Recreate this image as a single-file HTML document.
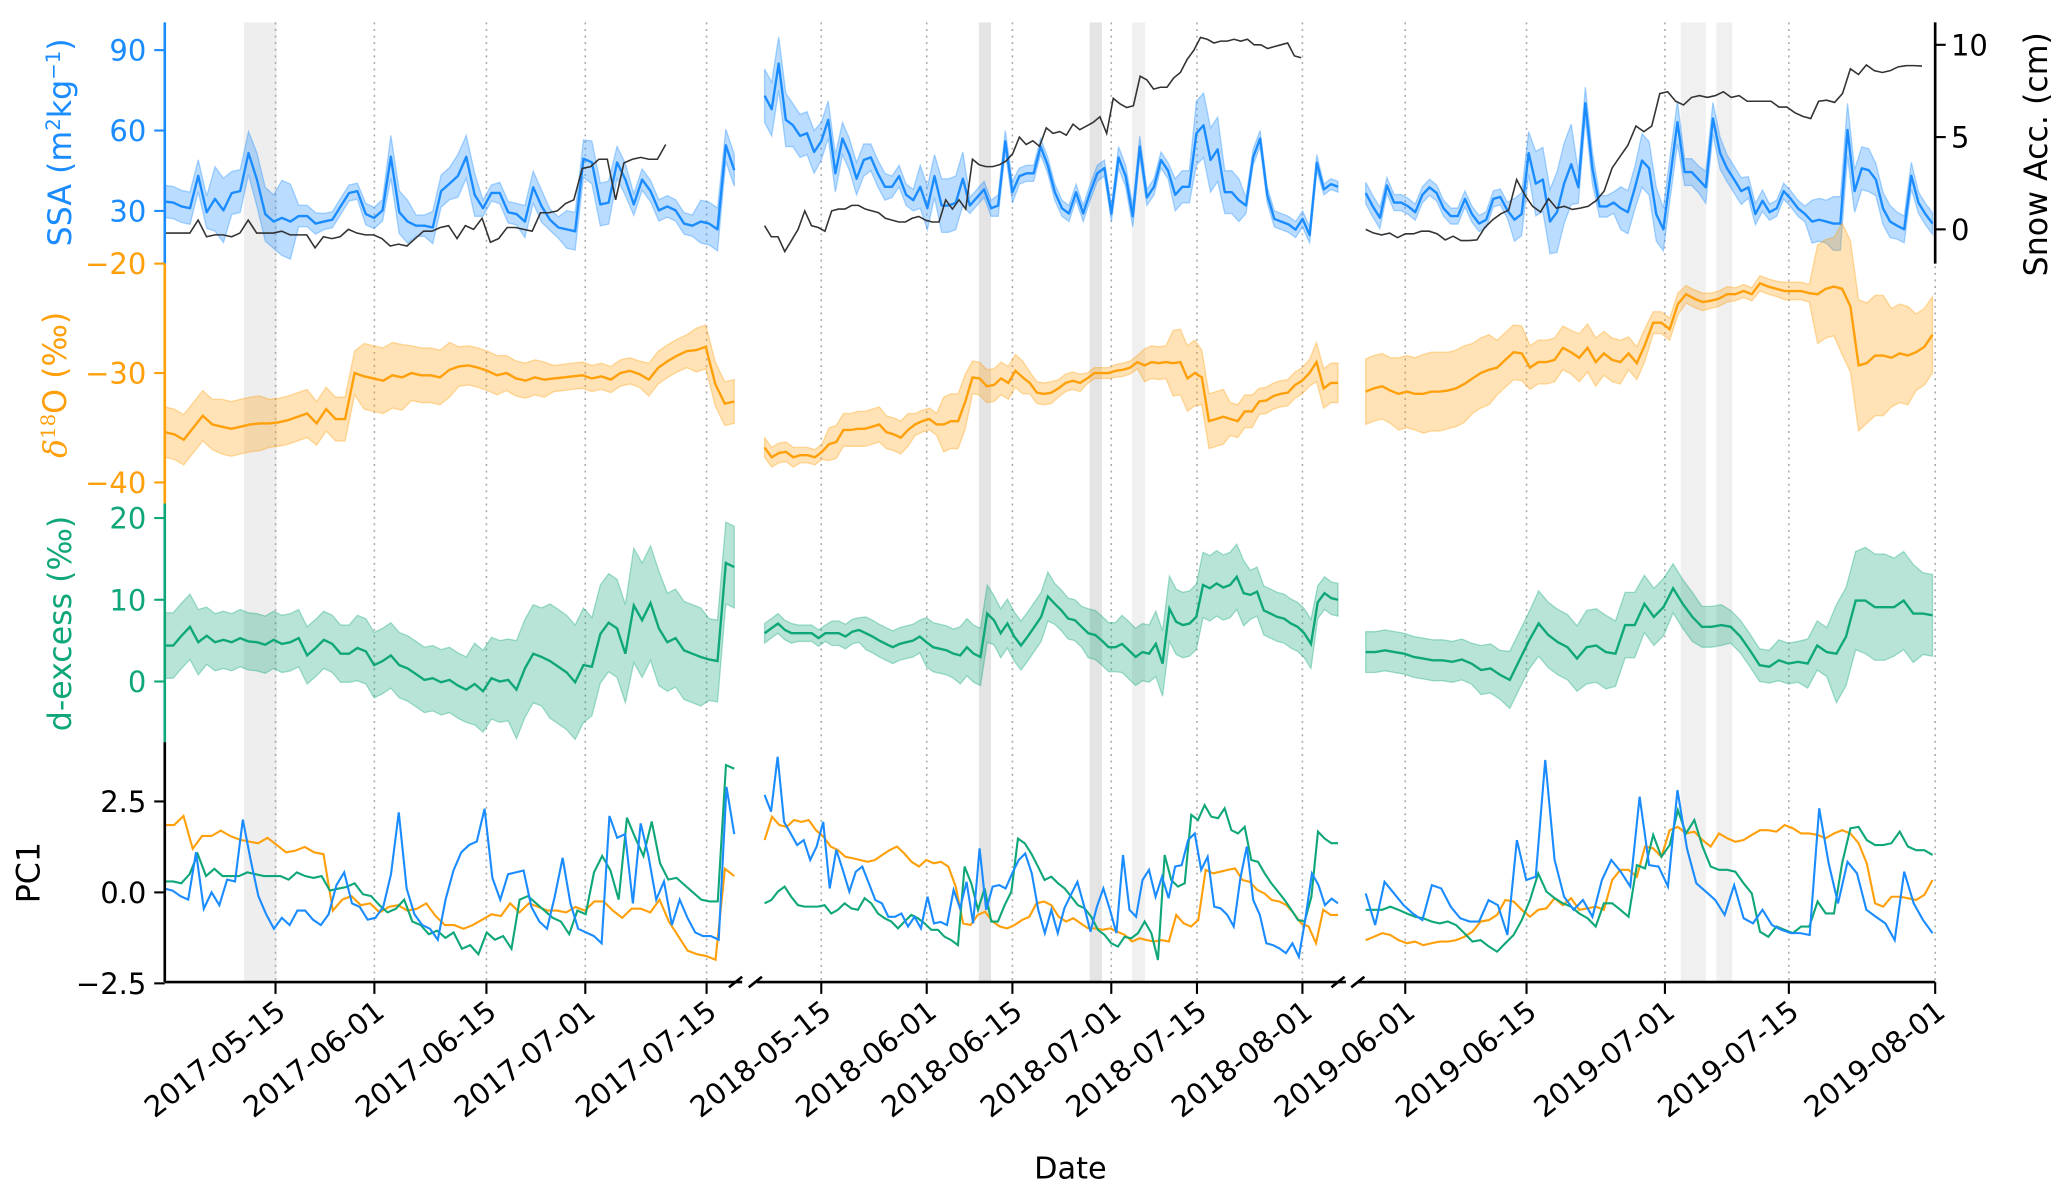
<!DOCTYPE html>
<html><head><meta charset="utf-8">
<style>
html,body{margin:0;padding:0;background:#fff;}
svg{display:block;font-family:"DejaVu Sans","Liberation Sans",sans-serif;}
</style></head>
<body>
<svg id="chart" width="2067" height="1199" viewBox="0 0 1568 909.6" preserveAspectRatio="none" xmlns="http://www.w3.org/2000/svg">
<g id="bg"></g><g id="marks"></g><g id="axes"></g>
</svg>
<script>
// ---------- data ----------
const tickLabels2017 = ["2017-05-15","2017-06-01","2017-06-15","2017-07-01","2017-07-15"];
const tickLabels2018 = ["2018-05-15","2018-06-01","2018-06-15","2018-07-01","2018-07-15","2018-08-01"];
const tickLabels2019 = ["2019-06-01","2019-06-15","2019-07-01","2019-07-15","2019-08-01"];
const ssaTicks = [30,60,90];
const d18Ticks = [-40,-30,-20];
const dexTicks = [0,10,20];
const pcTicks = [-2.5,0.0,2.5];
const snowTicks = [0,5,10];

const ssaMean2017 = [33.5,33.1,31.7,31,43.1,29.5,34.5,30.2,36.7,37.4,51.6,41.7,28.8,26,27.4,26,28.1,28.1,25.3,26,26.7,31.7,36.7,37.4,28.8,27.4,30.2,50.2,29.5,26,24.5,24.5,23.8,37.4,40.2,43.1,50.2,36,31,36.7,36.7,29.5,28.8,26,38.8,31.7,26.7,23.8,23.1,22.4,49.5,48.1,32.4,33.1,48.1,41.7,32.4,41.7,37.4,30.2,31.7,30.2,25.3,24.5,26,25.3,23.1,54.5,45.2];
const ssaSpread2017 = [6,6,12,8,10,14,4,3,3,4,8,4,6,8,3,4,6,4,7,8,6,4,4,4,8,6];
const snow2017 = [-0.2,-0.2,-0.2,-0.2,0.5,-0.4,-0.3,-0.3,-0.4,-0.2,0.5,-0.2,-0.2,-0.2,-0.1,-0.3,-0.3,-0.3,-1.0,-0.4,-0.5,-0.4,0.0,-0.2,-0.3,-0.3,-0.5,-0.9,-0.8,-0.9,-0.5,-0.1,-0.1,0.1,0.2,-0.5,0.2,0.0,0.6,-0.7,-0.5,0.1,0.1,0.0,-0.1,0.9,0.9,1.0,1.4,1.6,3.3,3.4,3.8,3.8,1.6,3.6,3.8,3.9,3.8,3.8,4.6];
const d18Mean2017 = [-35.4,-35.6,-36.1,-35.0,-33.9,-34.7,-34.9,-35.1,-34.9,-34.7,-34.6,-34.6,-34.5,-34.3,-34.0,-33.7,-34.6,-33.3,-34.2,-34.2,-30.0,-30.3,-30.5,-30.7,-30.2,-30.4,-30.0,-30.2,-30.2,-30.4,-29.7,-29.4,-29.3,-29.5,-29.8,-30.2,-30.0,-30.5,-30.7,-30.4,-30.6,-30.5,-30.4,-30.3,-30.2,-30.5,-30.3,-30.6,-30.0,-29.8,-30.1,-30.6,-29.5,-28.9,-28.4,-28.0,-27.9,-27.6,-31.0,-32.8,-32.6];
const d18Spread2017 = [2.3,2.5,2.2,2.0,3.0,2.5,1.8,1.6,1.2,1.2,1.5,2.0];
const dexMean2017 = [4.4,4.4,5.6,6.7,4.8,5.6,4.8,5.1,4.8,5.3,4.9,4.8,4.5,5.1,4.6,4.8,5.3,3.2,4.1,5.1,4.6,3.4,3.4,4.1,3.7,2.0,2.5,3.2,2.0,1.6,0.9,0.2,0.4,-0.1,0.2,-0.5,-1.0,-0.3,-1.2,0.4,0.0,0.2,-1.0,1.6,3.4,3.0,2.5,1.8,1.1,-0.1,2.0,1.8,5.8,7.2,6.5,3.4,9.3,7.5,9.6,6.5,4.8,5.3,3.8,3.4,3.0,2.7,2.5,14.5,14.0];
const dexSpread2017 = [4,3.5,3.5,3.5,3.5,4,4,4,5,6,7,6,7,6,5];
const pcSsa2017 = [0.1,0.05,-0.1,-0.2,1.1,-0.45,0.0,-0.35,0.35,0.3,2.0,0.9,-0.1,-0.6,-1.0,-0.7,-0.9,-0.5,-0.5,-0.75,-0.9,-0.6,0.2,0.55,-0.3,-0.4,-0.75,-0.7,-0.4,0.5,2.2,0.1,-0.6,-0.9,-1.0,-1.3,-0.2,0.6,1.1,1.3,1.4,2.3,0.4,-0.2,0.5,0.55,0.6,-0.4,-0.8,-1.0,-0.1,0.95,-0.3,-1.0,-1.1,-1.2,-1.4,2.1,1.5,1.6,-0.3,1.9,1.0,-0.2,0.3,-0.9,-0.2,-0.7,-1.1,-1.2,-1.2,-1.3,2.9,1.6];
const pcD18_2017 = [1.85,1.85,2.1,1.2,1.55,1.55,1.7,1.55,1.45,1.4,1.35,1.5,1.3,1.1,1.15,1.25,1.1,1.05,-0.5,-0.2,-0.1,-0.35,-0.3,-0.55,-0.4,-0.35,-0.5,-0.45,-0.3,-0.65,-0.9,-0.9,-1.0,-0.9,-0.75,-0.6,-0.65,-0.3,-0.55,-0.3,-0.4,-0.5,-0.5,-0.55,-0.4,-0.5,-0.25,-0.25,-0.5,-0.7,-0.45,-0.45,-0.55,-0.2,-0.8,-1.2,-1.6,-1.7,-1.75,-1.85,0.65,0.45];
const pcDex2017 = [0.3,0.3,0.25,0.5,1.05,0.45,0.65,0.45,0.45,0.45,0.55,0.5,0.45,0.45,0.45,0.35,0.55,0.45,0.4,0.45,0.05,0.1,0.15,0.25,-0.05,-0.1,-0.35,-0.55,-0.45,-0.2,-0.8,-0.9,-1.15,-1.05,-1.25,-1.1,-1.55,-1.45,-1.7,-1.1,-1.3,-1.2,-1.55,-0.2,-0.1,-0.3,-0.5,-0.7,-0.8,-1.15,-0.5,-0.6,0.55,1.0,0.6,-0.2,2.05,1.5,1.0,1.95,0.8,0.35,0.4,0.2,0.0,-0.2,-0.25,-0.25,3.5,3.4];

const ssaMean2018 = [73,68,85,64,62,58,59,52,56,64,44,57,51,42,49,50,44,39,39,43,36,34,39,31,43,32,32,33,42,32,35,38,31,32,56,37,43,44,44,54,47,37,31,29,37,29,37,44,46,29,50,43,28,54,35,39,49,45,36,39,39,59,62,49,53,37,37,34,32,50,57,36,27,26,25,23,27,21,48,38,40,39];
const ssaSpread2018 = [10,8,7,6,5,4,8,10,3,4,3,3,3,3,4,3,6,12,8,3,3,3,2];
const snow2018 = [0.2,-0.4,-0.4,-1.2,-0.6,0.0,1.0,0.2,0.1,-0.1,1.0,1.1,1.1,1.3,1.3,1.1,1.0,0.9,0.6,0.5,0.4,0.4,0.6,0.7,0.5,0.4,0.4,1.6,1.1,1.6,1.1,3.8,3.5,3.4,3.4,3.5,3.7,4.1,5.0,4.6,4.8,4.5,5.5,5.2,5.3,5.1,5.7,5.4,5.6,5.8,6.1,5.2,7.1,6.8,6.6,6.7,8.3,8.1,7.6,7.7,7.7,8.2,8.5,9.2,9.7,10.4,10.3,10.1,10.2,10.2,10.3,10.2,10.3,10.0,10.0,9.8,9.9,10.0,10.1,9.4,9.3];
const d18Mean2018 = [-36.8,-37.7,-37.3,-37.2,-37.7,-37.5,-37.5,-37.7,-37.2,-36.5,-36.3,-35.2,-35.2,-35.1,-35.1,-34.9,-34.7,-35.4,-35.6,-35.9,-35.2,-34.7,-34.4,-34.2,-34.7,-34.7,-34.4,-34.4,-32.6,-30.4,-30.5,-31.2,-31.1,-30.5,-30.9,-29.8,-30.4,-30.9,-31.8,-31.9,-31.8,-31.4,-30.9,-30.7,-30.9,-30.5,-30.0,-30.0,-30.0,-29.8,-29.7,-29.5,-29.0,-29.3,-29.0,-29.1,-29.0,-29.1,-29.0,-30.5,-30.0,-30.4,-34.4,-34.2,-34.0,-34.2,-34.4,-33.5,-33.5,-32.6,-32.5,-32.1,-31.9,-31.8,-31.1,-30.7,-30.0,-29.0,-31.4,-30.9,-30.9];
const d18Spread2018 = [0.9,0.7,1.5,1.6,1.5,1.0,2.5,1.5,1.5,1.0,0.8,0.5,0.6,1.5,3.0,2.5,1.5,1.2,1.2,1.8];
const dexMean2018 = [5.9,6.5,7.1,6.3,5.9,5.9,5.9,5.9,5.3,5.9,5.9,5.9,5.5,6.1,6.3,5.9,5.5,5.0,4.6,4.2,4.6,4.8,5.0,5.5,4.8,4.2,4.0,3.8,3.4,3.2,4.2,3.4,3.0,8.3,7.5,5.9,7.1,5.5,4.4,5.5,6.7,7.9,10.4,9.5,8.7,7.7,7.5,6.7,5.9,5.7,5.0,4.2,4.2,4.6,3.8,3.0,3.6,3.4,4.6,2.2,8.9,7.3,6.9,7.1,7.9,11.8,11.4,12.0,11.5,11.8,12.8,10.8,10.6,11.0,8.7,8.3,7.9,7.7,7.1,6.7,5.9,4.6,9.7,10.8,10.2,10.0];
const dexSpread2018 = [1.2,1.0,1.5,2.0,2.0,3.0,3.5,3.0,3.0,2.5,3.0,3.5,4.0,4.0,4.0,3.0,3.0,2.0];
const pcSsa2018 = [2.68,2.22,3.73,1.94,1.62,1.3,1.44,0.89,1.26,1.94,0.11,1.17,0.62,0.02,0.57,0.71,0.25,-0.21,-0.3,-0.67,-0.67,-0.58,-0.94,-0.67,-0.99,-0.12,-0.85,-0.81,-0.9,0.07,-0.44,0.29,-0.85,1.21,-0.48,0.16,0.2,0.11,0.52,0.89,1.07,0.52,-0.48,-1.12,-0.48,-1.12,-0.44,-0.07,0.29,-0.35,-1.08,-0.39,0.11,-0.48,-1.12,1.03,-0.48,-0.67,0.34,0.62,-0.12,0.43,-0.16,0.71,0.75,1.44,1.62,0.62,0.98,-0.39,-0.44,-0.62,-0.94,0.38,1.26,-0.21,-0.62,-1.4,-1.45,-1.54,-1.67,-1.4,-1.77,-0.71,0.52,0.2,-0.35,-0.17,-0.3];
const pcD18_2018 = [1.44,2.08,1.85,1.8,1.99,1.94,1.99,1.71,1.53,1.26,1.16,0.98,0.94,0.89,0.84,0.89,1.03,1.16,1.26,1.07,0.84,0.71,0.89,0.8,0.84,0.71,0.16,-0.85,-0.9,-0.62,-0.53,-0.8,-0.94,-0.99,-0.9,-0.76,-0.67,-0.3,-0.25,-0.35,-0.67,-0.8,-0.71,-0.85,-0.99,-0.99,-1.03,-0.99,-1.08,-1.17,-1.35,-1.26,-1.31,-1.35,-1.31,-1.35,-0.62,-0.85,-0.94,-0.76,0.62,0.52,0.57,0.62,0.66,0.34,0.29,0.07,-0.03,-0.21,-0.25,-0.35,-0.58,-0.85,-0.94,-1.4,-0.48,-0.62,-0.62];
const pcDex2018 = [-0.3,-0.21,0.02,0.16,-0.12,-0.35,-0.39,-0.39,-0.39,-0.35,-0.58,-0.48,-0.3,-0.44,-0.48,-0.16,-0.3,-0.58,-0.71,-0.8,-0.99,-0.8,-0.62,-0.71,-0.85,-1.03,-1.03,-1.22,-1.31,-1.45,0.71,0.25,-0.48,0.11,-0.8,-0.8,-0.35,0.02,1.48,1.35,1.07,0.71,0.34,0.43,0.25,0.11,-0.12,-0.35,-0.44,-0.67,-1.03,-1.17,-1.4,-1.49,-1.22,-1.26,-1.12,-0.8,-1.12,-1.86,1.03,0.34,0.16,0.25,2.13,1.99,2.4,2.08,2.04,2.31,1.71,1.62,1.8,0.89,0.84,0.52,0.25,0.02,-0.21,-0.48,-0.76,-0.8,-0.12,1.67,1.48,1.35,1.35];

const ssaMean2019 = [36.7,31.7,27.4,39.5,33.1,33.1,31.7,29.5,36,38.8,36.7,31,28.1,28.1,34.5,28.8,25.3,26.7,34.5,35.2,30.2,26.7,28.8,51.6,40.2,41.7,26,29.5,40.2,47.4,38.8,70.2,45.9,31.7,31.7,33.1,31,29.5,38.8,48.8,45.9,28.8,23.1,43.1,63.1,44.5,44.5,41.7,38.8,64.5,51.6,45.9,41.7,37.4,38.8,28.8,33.8,29.5,31,37.4,34.5,31,28.8,26,26.7,26,25.3,25.3,60.2,37.4,45.9,45.2,41.7,31,26,24.5,23.1,43.1,33.1,28.8,25.3];
const ssaSpread2019 = [4,3,3,3,3,3,3,8,12,15,6,4,8,10,8,5,6,5,4,3,3,8,10,8,6,5,4];
const snow2019 = [0,-0.2,-0.3,-0.2,-0.45,-0.24,-0.24,-0.1,-0.1,-0.24,-0.57,-0.37,-0.61,-0.61,-0.57,0.11,0.53,0.84,1.04,2.7,1.87,1.25,0.94,1.66,1.15,1.25,1.08,1.15,1.25,1.56,2.08,3.32,3.94,4.56,5.6,5.29,5.6,7.36,7.46,6.94,6.74,7.15,7.25,7.15,7.25,7.46,7.15,7.25,6.94,6.94,6.94,6.94,6.63,6.63,6.32,6.12,6.01,6.94,7.0,6.88,7.36,8.7,8.39,8.91,8.6,8.5,8.6,8.81,8.87,8.87,8.85];
const d18Mean2019 = [-31.7,-31.4,-31.2,-31.6,-31.9,-31.7,-31.9,-31.9,-31.7,-31.7,-31.6,-31.4,-31.0,-30.5,-30.0,-29.7,-29.5,-28.8,-28.1,-28.2,-29.5,-29.0,-29.0,-28.8,-27.7,-28.1,-28.6,-27.7,-29.0,-28.2,-28.8,-29.0,-28.2,-29.1,-27.4,-25.4,-25.4,-26.0,-23.7,-22.8,-23.2,-23.5,-23.4,-23.2,-22.8,-22.8,-22.5,-22.8,-21.8,-22.1,-22.3,-22.5,-22.5,-22.5,-22.7,-22.8,-22.3,-22.1,-22.3,-23.9,-29.3,-29.1,-28.4,-28.4,-28.6,-28.2,-28.4,-28.1,-27.6,-26.5];
const d18Spread2019 = [3.0,3.3,3.6,3.5,3.2,2.5,2.0,2.0,2.2,2.0,1.5,1.0,0.8,0.7,0.6,0.7,0.8,4.5,6.0,5.5,4.5,3.5];
const dexMean2019 = [3.6,3.6,3.8,3.6,3.4,3.0,2.8,2.6,2.6,2.4,2.7,2.2,1.4,1.6,0.8,0.2,2.6,5.0,7.1,5.7,4.8,4.2,2.8,4.2,4.4,3.6,3.4,6.9,6.9,9.5,7.9,9.1,11.4,9.5,7.9,6.7,6.7,6.9,6.7,5.5,3.8,2.0,1.8,2.6,2.2,2.4,2.2,4.4,3.6,3.4,5.5,9.9,9.9,9.1,9.1,9.1,9.9,8.3,8.3,8.1];
const dexSpread2019 = [2.5,2.5,2.5,2.5,3,3.5,4,4,4.5,4,3.5,3,2.5,2,2,2.5,3,6,6.5,6,5];
const pcSsa2019 = [-0.03,-0.9,0.29,-0.03,-0.35,-0.58,-0.76,0.2,0.11,-0.39,-0.71,-0.8,-0.8,-0.21,-0.35,-1.17,1.44,0.34,0.43,3.64,0.89,-0.12,-0.48,-0.21,-0.67,0.34,0.89,0.57,0.16,2.63,0.75,0.71,0.16,2.81,1.21,0.25,0.02,-0.21,-0.62,0.2,-0.71,-0.85,-0.48,-0.9,-1.03,-1.12,-1.12,-1.17,2.31,0.8,-0.3,0.84,0.52,-0.48,-0.67,-0.85,-1.31,0.57,-0.3,-0.76,-1.12];
const pcD18_2019 = [-1.31,-1.22,-1.12,-1.17,-1.31,-1.4,-1.35,-1.45,-1.4,-1.35,-1.35,-1.31,-1.22,-1.08,-0.8,-0.76,-0.62,-0.21,-0.25,-0.48,-0.67,-0.48,-0.44,-0.16,-0.35,-0.16,-0.48,-0.44,-0.39,-0.48,0.34,0.62,0.62,0.43,1.26,1.21,0.98,1.71,1.8,1.62,1.67,1.44,1.26,1.62,1.49,1.39,1.44,1.58,1.71,1.71,1.67,1.85,1.76,1.62,1.62,1.58,1.49,1.62,1.71,1.62,1.35,0.8,-0.3,-0.39,-0.12,-0.12,-0.16,-0.21,-0.07,0.34];
const pcDex2019 = [-0.48,-0.48,-0.48,-0.39,-0.48,-0.58,-0.67,-0.71,-0.8,-0.85,-0.8,-0.9,-1.12,-1.35,-1.31,-1.49,-1.63,-1.4,-1.17,-0.76,-0.21,0.52,0.02,-0.16,-0.3,-0.39,-0.58,-0.71,-0.94,-0.3,-0.3,-0.48,-0.67,0.75,0.66,1.58,0.98,1.3,2.26,1.62,1.99,1.26,0.71,0.62,0.62,0.57,0.25,-0.03,-1.08,-1.22,-0.94,-1.03,-1.12,-0.94,-0.94,-0.25,-0.58,-0.58,0.8,1.76,1.8,1.44,1.3,1.3,1.35,1.67,1.26,1.16,1.16,1.03];

// ---------- layout (pixel config, not data) ----------
const NS = "http://www.w3.org/2000/svg";
const C = {blue:"#1a8cff", orange:"#ff9f0a", green:"#0fa77a", black:"#000"};
const panels = [
  {year:"2017", x0:125, x1:557, snowEnd:505, ticks:[209,284,369,444,536], labels:tickLabels2017, bands:[[185,210,"#eeeeee"]],
   ssa:ssaMean2017, ssaS:ssaSpread2017, snow:snow2017, d18:d18Mean2017, d18S:d18Spread2017, dex:dexMean2017, dexS:dexSpread2017, p1:pcSsa2017, p2:pcD18_2017, p3:pcDex2017},
  {year:"2018", x0:580, x1:1015, snowEnd:987, ticks:[623,703,768,843,908,988], labels:tickLabels2018, bands:[[742.5,751.8,"#e4e4e4"],[826.6,835.9,"#e4e4e4"],[858.8,868.7,"#f0f0f0"]],
   ssa:ssaMean2018, ssaS:ssaSpread2018, snow:snow2018, d18:d18Mean2018, d18S:d18Spread2018, dex:dexMean2018, dexS:dexSpread2018, p1:pcSsa2018, p2:pcD18_2018, p3:pcDex2018},
  {year:"2019", x0:1036, x1:1466, snowEnd:1458, ticks:[1066,1158,1263,1357,1468], labels:tickLabels2019, bands:[[1275,1294,"#f0f0f0"],[1302,1314,"#f0f0f0"]],
   ssa:ssaMean2019, ssaS:ssaSpread2019, snow:snow2019, d18:d18Mean2019, d18S:d18Spread2019, dex:dexMean2019, dexS:dexSpread2019, p1:pcSsa2019, p2:pcD18_2019, p3:pcDex2019}
];
// axis functions
const ySSA = v => 221 - 2.033*v;
const ySnow = v => 174 - 14*v;
const yD18 = v => 200 + (-20 - v)*8.3;
const yDex = v => 517 - 6.2*v;
const yPC = v => 677 - 27.6*v;
const xIdx = (x0,x1,i,n) => x0 + (x1-x0)*i/(n-1);

const bg = document.getElementById('bg');
const marks = document.getElementById('marks');
const axes = document.getElementById('axes');
function mk(tag, attrs, parent){
  const e = document.createElementNS(NS, tag);
  for (const k in attrs) e.setAttribute(k, attrs[k]);
  parent.appendChild(e);
  return e;
}
function linePath(vals, x0, x1, yf){
  return vals.map((v,i)=>(i?"L":"M")+xIdx(x0,x1,i,vals.length).toFixed(1)+","+yf(v).toFixed(1)).join(" ");
}
function bandPath(vals, spr, x0, x1, yf){
  const n = vals.length, up=[], dn=[];
  for (let i=0;i<n;i++){
    const s = spr[Math.min(spr.length-1, Math.floor(i*spr.length/n))];
    const x = xIdx(x0,x1,i,n).toFixed(1);
    up.push(x+","+yf(vals[i]+s).toFixed(1));
    dn.push(x+","+yf(vals[i]-s).toFixed(1));
  }
  return "M"+up.join(" L")+" L"+dn.reverse().join(" L")+" Z";
}

panels.forEach(p=>{
  p.bands.forEach(b=>{
    const r = mk('rect',{x:b[0],y:17,width:b[1]-b[0],height:728,fill:b[2]},bg);
    
    
  });
  p.ticks.forEach(t=>{
    const l = mk('line',{x1:t,x2:t,y1:17,y2:745,stroke:"#aaa","stroke-width":1.2,"stroke-dasharray":"1.5,3.5"},bg);
    
    
  });
  const x0=p.x0, x1=p.x1;
  let e = mk('path',{d:bandPath(p.ssa,p.ssaS,x0,x1,ySSA),fill:C.blue,"fill-opacity":0.3,stroke:C.blue,"stroke-opacity":0.35,"stroke-width":1},marks);
  
  
  e = mk('path',{d:linePath(p.ssa,x0,x1,ySSA),fill:"none",stroke:C.blue,"stroke-width":1.8,"stroke-linejoin":"round"},marks);
  
  
  e = mk('path',{d:linePath(p.snow,x0,p.snowEnd,ySnow),fill:"none",stroke:"#333","stroke-width":1.2},marks);
  
  
  e = mk('path',{d:bandPath(p.d18,p.d18S,x0,x1,yD18),fill:C.orange,"fill-opacity":0.3,stroke:C.orange,"stroke-opacity":0.35,"stroke-width":1},marks);
  
  
  e = mk('path',{d:linePath(p.d18,x0,x1,yD18),fill:"none",stroke:C.orange,"stroke-width":1.8},marks);
  
  
  e = mk('path',{d:bandPath(p.dex,p.dexS,x0,x1,yDex),fill:C.green,"fill-opacity":0.3,stroke:C.green,"stroke-opacity":0.35,"stroke-width":1},marks);
  
  
  e = mk('path',{d:linePath(p.dex,x0,x1,yDex),fill:"none",stroke:C.green,"stroke-width":1.8},marks);
  
  
  [[p.p2,C.orange,'pc1-d18o-line-'],[p.p3,C.green,'pc1-dexcess-line-'],[p.p1,C.blue,'pc1-ssa-line-']].forEach(s=>{
    const l = mk('path',{d:linePath(s[0],x0,x1,yPC),fill:"none",stroke:s[1],"stroke-width":1.6},marks);
    
    
  });
  const ax = mk('line',{x1:x0-(p.year==="2017"?0:6),x2:x1+(p.year==="2019"?2:6),y1:745,y2:745,stroke:"#000","stroke-width":2},axes);
  
  
  p.ticks.forEach((t,i)=>{
    const tk = mk('line',{x1:t,x2:t,y1:745,y2:754,stroke:"#000","stroke-width":1.6},axes);
    
    
    const tx = mk('text',{x:0,y:0,"font-size":22,"text-anchor":"end",transform:`translate(${t+9},${770}) rotate(-38)`},axes);
    tx.textContent = p.labels[i];
    
    
  });
});
[[558,573],[1015,1030]].forEach(b=>{
  [b[0],b[1]].forEach(bx=>{
    const l = mk('line',{x1:bx-5,y1:749,x2:bx+5,y2:741,stroke:"#000","stroke-width":2},axes);
    
    
  });
});

function leftAxis(y0,y1,color,ticks,yf,fmt,name){
  const s = mk('line',{x1:125,x2:125,y1:y0,y2:y1,stroke:color,"stroke-width":2},axes);
  
  
  ticks.forEach(v=>{
    const y = yf(v);
    const t = mk('line',{x1:117,x2:125,y1:y,y2:y,stroke:color,"stroke-width":1.6},axes);
    
    
    const tx = mk('text',{x:111,y:y+8,"font-size":22,"text-anchor":"end",fill:color},axes);
    tx.textContent = fmt(v);
    
    
  });
}
const minus = v => (v<0?"\u2212":"")+Math.abs(v);
leftAxis(17,200,C.blue,ssaTicks,ySSA,v=>String(v),'ssa');
leftAxis(200,382,C.orange,d18Ticks,yD18,minus,'d18o');
leftAxis(382,563,C.green,dexTicks,yDex,v=>String(v),'dexcess');
leftAxis(563,745,"#000",pcTicks,yPC,v=>(v<0?"\u2212":"")+Math.abs(v).toFixed(1),'pc1');

let rs = mk('line',{x1:1468,x2:1468,y1:17,y2:200,stroke:"#000","stroke-width":2},axes);


snowTicks.forEach(v=>{
  const y=ySnow(v);
  const t = mk('line',{x1:1468,x2:1476,y1:y,y2:y,stroke:"#000","stroke-width":1.6},axes);
  
  
  const tx = mk('text',{x:1480,y:y+8,"font-size":22},axes);
  tx.textContent = String(v);
  
  
});
</script>
<script>
(function(){
  const NS="http://www.w3.org/2000/svg", axes=document.getElementById('axes');
  function label(x,y,color,name,html,size){
    const t=document.createElementNS(NS,'text');
    t.setAttribute('transform',`translate(${x},${y}) rotate(-90)`);
    t.setAttribute('text-anchor','middle');
    t.setAttribute('font-size',size||24);
    t.setAttribute('fill',color);
    
    
    t.innerHTML=html;
    axes.appendChild(t);
  }
  label(54,108,"#1a8cff","ssa-axis-title",'SSA (m<tspan baseline-shift="super" font-size="15">2</tspan>kg<tspan baseline-shift="super" font-size="15">−1</tspan>)');
  label(50,292,"#ff9f0a","d18o-axis-title",'<tspan font-family="DejaVu Serif" font-style="italic">δ</tspan><tspan baseline-shift="super" font-size="15" font-family="DejaVu Serif">18</tspan>O (‰)');
  label(54,473,"#0fa77a","dexcess-axis-title",'d-excess (‰)');
  label(30,662,"#000","pc1-axis-title",'PC1');
  label(1553,117,"#000","snow-axis-title",'Snow Acc. (cm)');
  const d=document.createElementNS(NS,'text');
  d.setAttribute('x',812);d.setAttribute('y',894);d.setAttribute('font-size',23);d.setAttribute('text-anchor','middle');
  
  
  d.textContent='Date';
  axes.appendChild(d);
})();
</script>
</body></html>
